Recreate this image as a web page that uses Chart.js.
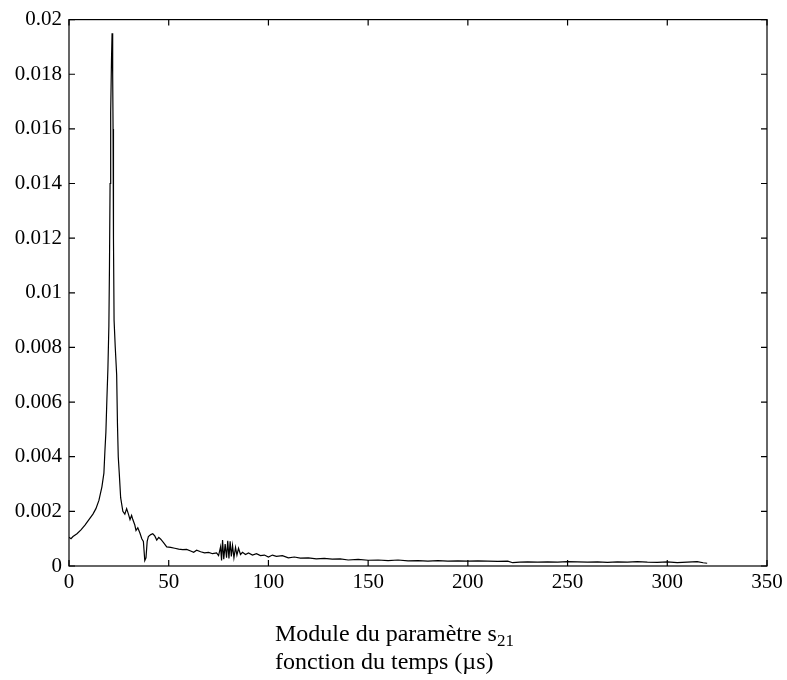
<!DOCTYPE html>
<html>
<head>
<meta charset="utf-8">
<script src="https://cdn.jsdelivr.net/npm/chart.js@4/dist/chart.umd.min.js"></script>
<style>
  html, body { margin: 0; padding: 0; background: #fff; }
  #wrap { position: relative; width: 787px; height: 680px; }
  #c { position: absolute; left: 0; top: 0; }
  #caption { position: absolute; left: 275px; top: 619px; font-family: "Liberation Serif", "Times New Roman", serif; font-size: 24px; line-height: 28px; color: #000; white-space: nowrap; }
  #caption sub { font-size: 17px; vertical-align: -5px; line-height: 0; }
</style>
</head>
<body>
<div id="wrap">
  <canvas id="c" width="787" height="680"></canvas>
  <div id="caption">Module du paramètre s<sub>21</sub><br>fonction du temps (µs)</div>
</div>
<script>
// time (µs)
const times = [0,1,2,4,6,8,10,12,13.5,15,16.5,17.5,18,18.5,19,19.5,20,20.3,20.6,20.9,21.3,21.6,21.9,22.1,22.3,22.6,23.2,23.9,24.3,24.7,25.2,25.9,27,28,28.9,29.8,30.6,31.4,32,33,33.6,34.5,35.6,36.5,37.3,38,38.6,39.2,39.8,41,42,43,44,45,46,47.5,49,51,53,55,57,59,61,62.5,64,66,68,70,72,74,75,76,76.5,77,77.6,78.3,79,79.6,80.2,80.8,81.4,82,82.7,83.5,84.2,85,86,87,88.5,90,92,94,96,98,100,102,104,107,110,113,116,120,124,128,132,136,140,145,150,155,160,165,170,175,180,185,190,195,200,205,210,215,220,222.5,226,230,235,240,245,250,255,260,265,270,275,280,285,290,295,300,305,310,315,318,320];
// |s21|
const modS21 = [0.00105,0.00100,0.00108,0.00118,0.00132,0.0015,0.0017,0.0019,0.0021,0.0024,0.0029,0.0034,0.0042,0.0049,0.0061,0.0072,0.0088,0.0110,0.0140,0.0166,0.0185,0.0195,0.0180,0.0160,0.0120,0.0090,0.0080,0.0070,0.0052,0.0040,0.0034,0.0025,0.0020,0.0019,0.0021,0.0019,0.0017,0.00185,0.0017,0.0015,0.0013,0.0014,0.0012,0.0010,0.0009,0.0002,0.0003,0.0009,0.00108,0.00115,0.00118,0.0011,0.00095,0.00105,0.00098,0.00085,0.0007,0.00068,0.00065,0.00062,0.0006,0.00061,0.00055,0.0005,0.00058,0.00052,0.00048,0.0005,0.00045,0.00048,0.00038,0.0007,0.0002,0.00095,0.00025,0.0008,0.0003,0.00092,0.00028,0.0009,0.00035,0.00075,0.0003,0.00068,0.0004,0.00065,0.00042,0.0005,0.00042,0.00048,0.0004,0.00045,0.00038,0.0004,0.00033,0.0004,0.00035,0.00038,0.0003,0.00033,0.00029,0.0003,0.00026,0.00028,0.00025,0.00026,0.00022,0.00024,0.00021,0.00022,0.0002,0.00022,0.00019,0.0002,0.00018,0.0002,0.00018,0.00019,0.00018,0.00019,0.00018,0.00017,0.00018,0.00012,0.00014,0.00015,0.00014,0.00015,0.00014,0.00016,0.00015,0.00014,0.00015,0.00013,0.00015,0.00014,0.00016,0.00014,0.00013,0.00015,0.00012,0.00014,0.00016,0.00012,0.0001];
const xTicks = [0,50,100,150,200,250,300,350];
const yTicks = [0,0.002,0.004,0.006,0.008,0.01,0.012,0.014,0.016,0.018,0.02];
const yTickLabels = ["0","0.002","0.004","0.006","0.008","0.01","0.012","0.014","0.016","0.018","0.02"];

const points = times.map((t, i) => ({ x: t, y: modS21[i] }));

const frameTicks = {
  id: 'frameTicks',
  afterDraw(chart) {
    const ctx = chart.ctx, a = chart.chartArea;
    const xs = chart.scales.x, ys = chart.scales.y;
    ctx.save();
    ctx.strokeStyle = '#000';
    ctx.lineWidth = 1.2;
    ctx.strokeRect(a.left, a.top, a.right - a.left, a.bottom - a.top);
    const L = 6;
    ctx.beginPath();
    xs.ticks.forEach(tk => {
      const p = xs.getPixelForValue(tk.value);
      ctx.moveTo(p, a.bottom); ctx.lineTo(p, a.bottom - L);
      ctx.moveTo(p, a.top); ctx.lineTo(p, a.top + L);
    });
    ys.ticks.forEach(tk => {
      const p = ys.getPixelForValue(tk.value);
      ctx.moveTo(a.left, p); ctx.lineTo(a.left + L, p);
      ctx.moveTo(a.right, p); ctx.lineTo(a.right - L, p);
    });
    ctx.stroke();
    ctx.restore();
  }
};

new Chart(document.getElementById('c'), {
  type: 'line',
  data: {
    datasets: [{
      data: points,
      borderColor: '#000',
      borderWidth: 1.2,
      pointRadius: 0,
      tension: 0,
      fill: false
    }]
  },
  options: {
    responsive: false,
    animation: false,
    events: [],
    layout: { padding: { left: 0, top: 19, right: 20, bottom: 0 } },
    plugins: { legend: { display: false }, tooltip: { enabled: false } },
    scales: {
      x: {
        type: 'linear',
        min: 0, max: 350,
        grid: { display: false, drawTicks: false, tickLength: 0 },
        border: { display: false },
        afterBuildTicks: s => { s.ticks = xTicks.map(v => ({ value: v })); },
        afterFit: s => { s.height = 114; },
        ticks: {
          color: '#000',
          font: { family: 'Liberation Serif', size: 21 },
          padding: 4,
          maxRotation: 0,
          callback: v => String(v)
        }
      },
      y: {
        type: 'linear',
        min: 0, max: 0.02,
        grid: { display: false, drawTicks: false, tickLength: 0 },
        border: { display: false },
        afterBuildTicks: s => { s.ticks = yTicks.map(v => ({ value: v })); },
        afterFit: s => { s.width = 69; },
        ticks: {
          color: '#000',
          font: { family: 'Liberation Serif', size: 21 },
          padding: 7,
          callback: v => { const i = yTicks.findIndex(t => Math.abs(t - v) < 1e-9); return i >= 0 ? yTickLabels[i] : ''; }
        }
      }
    }
  },
  plugins: [frameTicks]
});
</script>
</body>
</html>
